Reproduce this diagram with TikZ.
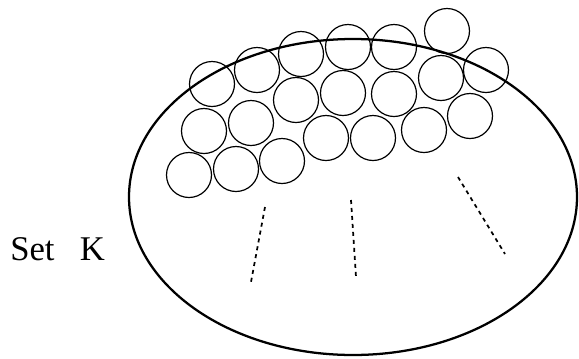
\documentclass[tikz,border=0pt]{standalone}
\usepackage{fontspec}
\setmainfont{Liberation Serif}
\usetikzlibrary{positioning}

\begin{document}
\begin{tikzpicture}[x=0.75pt, y=-0.75pt,
    ball/.style={draw, circle, line width=0.9pt, minimum size=33.75pt, inner sep=0pt},
    setline/.style={line width=1.7pt},
    guess/.style={line width=1.3pt, dash pattern=on 3pt off 3pt}]
  \useasboundingbox (0,0) rectangle (579,358);
  % the set
  \draw[setline] (353,197) ellipse [x radius=224, y radius=158];
  \node[anchor=base west, inner sep=0pt, font=\fontsize{26}{30}\selectfont]
    (setk) at (10,260) {Set\hspace{19pt}K};
  % packed balls, bottom row to top row
  \foreach \name/\px/\py in {a1/189/175, a2/236/169, a3/282/161, a4/326/138,
      a5/373/138, a6/424/130, a7/470/116,
      b1/204/131, b2/251/123, b3/296/100, b4/343/93, b5/394/94, b6/441/78, b7/486/70,
      c1/212/84, c2/257/70, c3/301/54, c4/348/47, c5/394/47, c6/447/31}
    \node[ball] (\name) at (\px,\py) {};
  % dashed continuation
  \draw[guess] (265,207) -- (251,282);
  \draw[guess] (351,200) -- (356,277);
  \draw[guess] (458,177) -- (505,254);
\end{tikzpicture}
\end{document}
